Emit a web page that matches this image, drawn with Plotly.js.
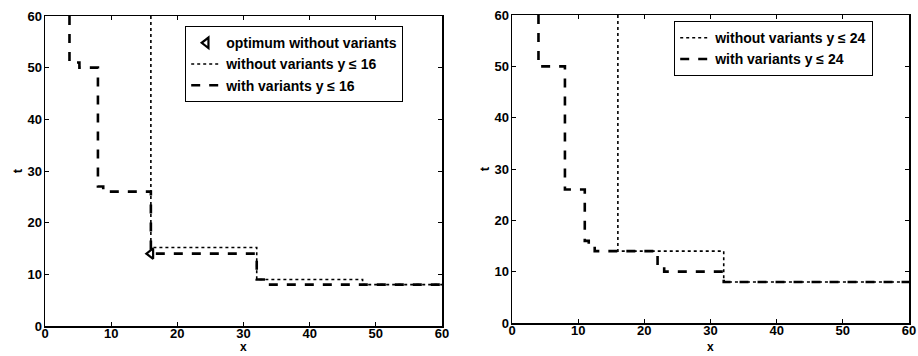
<!DOCTYPE html>
<html>
<head>
<meta charset="utf-8">
<script src="https://cdn.plot.ly/plotly-3.0.1.min.js"></script>
<style>html,body{margin:0;padding:0;background:#fff;}#chart{width:918px;height:356px;}</style>
</head>
<body>
<div id="chart"></div>
<script>
// Left panel (y <= 16)
const woX16 = [16, 16, 32, 48, 60];
const woT16 = [60, 15.2, 9, 8, 8];
const wX16 = [3.7, 3.7, 5.2, 8, 8.8, 16, 16.6, 32, 33.3, 60];
const wT16 = [60, 51, 50, 27, 26, 15, 14, 9, 8, 8];
const optX = [16];
const optT = [14];
// Right panel (y <= 24)
const woX24 = [16, 16, 32, 60];
const woT24 = [60, 14, 8, 8];
const wX24 = [4, 4, 8, 11, 11.6, 12.5, 22, 23, 32, 60];
const wT24 = [60, 50, 26, 16, 15, 14, 11, 10, 8, 8];
// Axis ticks and titles
const tickVals = [0, 10, 20, 30, 40, 50, 60];
const xTitle = 'x';
const yTitle = 't';

const FONT = 'Liberation Sans, Arial, sans-serif';

const traces = [
  {x: optX, y: optT, mode: 'markers', name: 'optimum without variants',
   marker: {symbol: 'triangle-left-open', size: 9, color: '#000', line: {width: 2.2, color: '#000'}},
   xaxis: 'x', yaxis: 'y', legend: 'legend'},
  {x: woX16, y: woT16, mode: 'lines', name: 'without variants y ≤ 16',
   line: {shape: 'hv', dash: 'dot', width: 1.6, color: '#000'},
   xaxis: 'x', yaxis: 'y', legend: 'legend'},
  {x: wX16, y: wT16, mode: 'lines', name: 'with variants y ≤ 16',
   line: {shape: 'hv', dash: 'dash', width: 2.6, color: '#000'},
   xaxis: 'x', yaxis: 'y', legend: 'legend'},
  {x: woX24, y: woT24, mode: 'lines', name: 'without variants y ≤ 24',
   line: {shape: 'hv', dash: 'dot', width: 1.6, color: '#000'},
   xaxis: 'x2', yaxis: 'y2', legend: 'legend2'},
  {x: wX24, y: wT24, mode: 'lines', name: 'with variants y ≤ 24',
   line: {shape: 'hv', dash: 'dash', width: 2.6, color: '#000'},
   xaxis: 'x2', yaxis: 'y2', legend: 'legend2'}
];

function ax(domain, anchor, title, isX) {
  const a = {
    domain: domain, anchor: anchor, range: [0, 60], tickvals: tickVals,
    ticks: 'inside', ticklen: 4, tickwidth: 1, tickcolor: '#000',
    mirror: 'ticks', showline: true, linecolor: '#000', linewidth: 1.5,
    showgrid: false, zeroline: false,
    ticklabelstandoff: isX ? -5 : -1,
    tickfont: {family: FONT, size: 13, color: '#000', weight: 'bold'}
  };
  if (title) a.title = {text: title, font: {family: FONT, size: 13, color: '#000', weight: 'bold'}, standoff: 2};
  return a;
}

const legendBase = {
  bgcolor: '#fff', bordercolor: '#000', borderwidth: 1.2,
  font: {family: FONT, size: 14, color: '#000', weight: 'bold'},
  tracegroupgap: 0, itemwidth: 30, xanchor: 'right', yanchor: 'top'
};

const xt = (xa) => ({
  text: xTitle, xref: xa + ' domain', x: 0.5, yref: 'paper', y: 0,
  xanchor: 'center', yanchor: 'bottom', yshift: 0, showarrow: false,
  font: {family: FONT, size: 12, color: '#000', weight: 'bold'}
});

const layout = {
  width: 918, height: 356,
  margin: {l: 0, r: 0, t: 0, b: 0},
  paper_bgcolor: '#fff', plot_bgcolor: '#fff',
  showlegend: true,
  xaxis: ax([45/918, 442/918], 'y', null, true),
  yaxis: ax([1 - 326/356, 1 - 16/356], 'x', yTitle, false),
  xaxis2: ax([512/918, 909/918], 'y2', null, true),
  yaxis2: ax([1 - 323/356, 1 - 15/356], 'x2', yTitle, false),
  legend: Object.assign({}, legendBase, {x: 403/918, y: 1 - 26/356}),
  legend2: Object.assign({}, legendBase, {x: 873/918, y: 1 - 21/356}),
  annotations: [xt('x'), xt('x2')]
};

Plotly.newPlot('chart', traces, layout, {displayModeBar: false, staticPlot: true});
</script>
</body>
</html>
